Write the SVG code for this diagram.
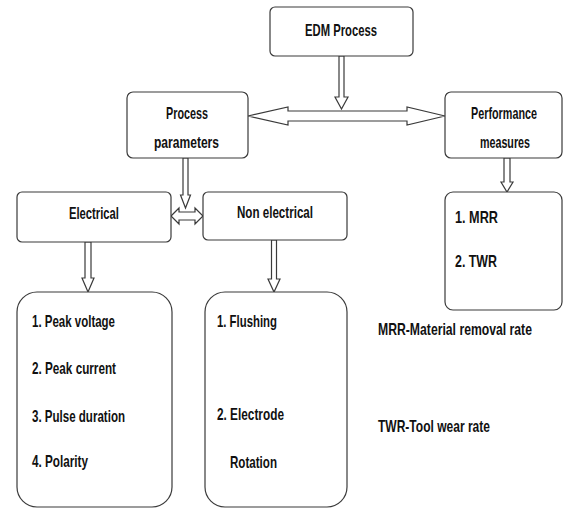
<svg xmlns="http://www.w3.org/2000/svg" width="564" height="508" viewBox="0 0 564 508">
<style>
.box{fill:#fff;stroke:#3a3a3a;stroke-width:1.2}
.arr{fill:#fff;stroke:#3a3a3a;stroke-width:1.2;stroke-linejoin:miter}
text{font-family:"Liberation Sans",Arial,sans-serif;font-weight:bold;font-size:16.5px;fill:#111}
</style>
<rect width="564" height="508" fill="#fff"/>
<g id="connectors">
<path class="arr" d="M339,56 L344,56 L344,97 L348,97 L341.5,109 L335,97 L339,97 Z"/>
<path class="arr" d="M248,116 L288,107 L288,111 L407,111 L407,107 L445,116 L407,125 L407,121 L288,121 L288,125 Z"/>
<path class="arr" d="M183,158 L188,158 L188,195 L190.5,195 L185.5,208 L180.5,195 L183,195 Z"/>
<path class="arr" d="M171,216 L179,208 L179,212 L195,212 L195,208 L203,216 L195,224 L195,220 L179,220 L179,224 Z"/>
<path class="arr" d="M85,242 L91,242 L91,278 L94,278 L88,292 L82,278 L85,278 Z"/>
<path class="arr" d="M271.5,240 L276.5,240 L276.5,279 L280,279 L274,292 L268,279 L271.5,279 Z"/>
<path class="arr" d="M504,158 L510,158 L510,182 L513,182 L507,192 L501,182 L504,182 Z"/>
</g>
<g id="edm">
<rect class="box" x="270" y="7" width="143" height="49" rx="5"/>
<text transform="scale(0.75,1)" x="406.67" y="36" textLength="96" lengthAdjust="spacingAndGlyphs">EDM Process</text>
</g>
<g id="process-parameters">
<rect class="box" x="127" y="92" width="121" height="66" rx="6"/>
<text transform="scale(0.75,1)" x="221.33" y="119" textLength="56" lengthAdjust="spacingAndGlyphs">Process</text>
<text transform="scale(0.75,1)" x="205.33" y="148" textLength="86.67" lengthAdjust="spacingAndGlyphs">parameters</text>
</g>
<g id="performance-measures">
<rect class="box" x="445" y="92" width="117" height="66" rx="6"/>
<text transform="scale(0.75,1)" x="628" y="119" textLength="88" lengthAdjust="spacingAndGlyphs">Performance</text>
<text transform="scale(0.75,1)" x="640" y="148" textLength="66.67" lengthAdjust="spacingAndGlyphs">measures</text>
</g>
<g id="electrical">
<rect class="box" x="17" y="192" width="154" height="50" rx="5"/>
<text transform="scale(0.75,1)" x="92" y="219" textLength="66.67" lengthAdjust="spacingAndGlyphs">Electrical</text>
</g>
<g id="non-electrical">
<rect class="box" x="203" y="192" width="144" height="48" rx="5"/>
<text transform="scale(0.75,1)" x="316" y="218" textLength="101.33" lengthAdjust="spacingAndGlyphs">Non electrical</text>
</g>
<g id="measures-list">
<rect class="box" x="445" y="192" width="117" height="118" rx="8"/>
<text transform="scale(0.75,1)" x="606.67" y="223" textLength="57.33" lengthAdjust="spacingAndGlyphs">1. MRR</text>
<text transform="scale(0.75,1)" x="606.67" y="267" textLength="56" lengthAdjust="spacingAndGlyphs">2. TWR</text>
</g>
<g id="electrical-list">
<rect class="box" x="17" y="292" width="155" height="215" rx="20"/>
<text transform="scale(0.75,1)" x="42.67" y="327" textLength="110.67" lengthAdjust="spacingAndGlyphs">1. Peak voltage</text>
<text transform="scale(0.75,1)" x="42.67" y="374" textLength="112" lengthAdjust="spacingAndGlyphs">2. Peak current</text>
<text transform="scale(0.75,1)" x="42.67" y="422" textLength="124" lengthAdjust="spacingAndGlyphs">3. Pulse duration</text>
<text transform="scale(0.75,1)" x="42.67" y="467" textLength="74.67" lengthAdjust="spacingAndGlyphs">4. Polarity</text>
</g>
<g id="non-electrical-list">
<rect class="box" x="205" y="292" width="142" height="215" rx="20"/>
<text transform="scale(0.75,1)" x="289.33" y="327" textLength="80" lengthAdjust="spacingAndGlyphs">1. Flushing</text>
<text transform="scale(0.75,1)" x="289.33" y="420" textLength="89.33" lengthAdjust="spacingAndGlyphs">2. Electrode</text>
<text transform="scale(0.75,1)" x="306.67" y="468" textLength="62.67" lengthAdjust="spacingAndGlyphs">Rotation</text>
</g>
<g id="legend">
<text transform="scale(0.75,1)" x="504" y="335" textLength="205.33" lengthAdjust="spacingAndGlyphs">MRR-Material removal rate</text>
<text transform="scale(0.75,1)" x="504" y="432" textLength="149.33" lengthAdjust="spacingAndGlyphs">TWR-Tool wear rate</text>
</g>
</svg>
